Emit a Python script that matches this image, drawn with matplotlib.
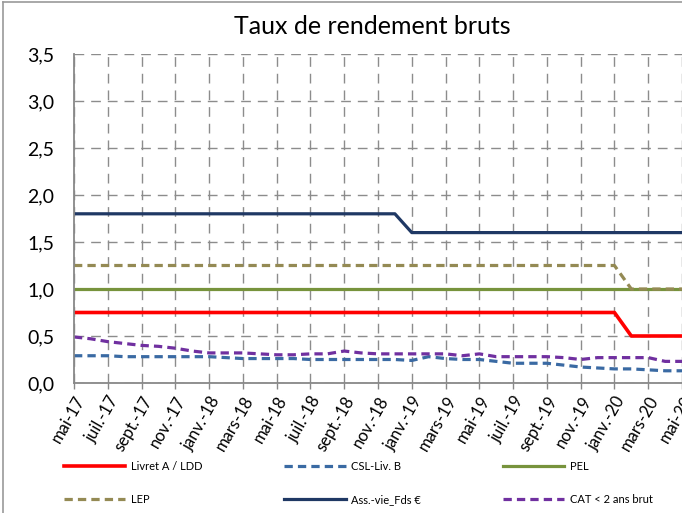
import matplotlib

matplotlib.use("Agg")
import matplotlib.pyplot as plt
import numpy as np
from matplotlib.lines import Line2D

plt.rcParams["font.family"] = ["Lato", "DejaVu Sans"]

# monthly series, mai-17 .. mai-20
tick_labels = [
    "mai-17", "juil.-17", "sept.-17", "nov.-17", "janv.-18", "mars-18", "mai-18",
    "juil.-18", "sept.-18", "nov.-18", "janv.-19", "mars-19", "mai-19", "juil.-19",
    "sept.-19", "nov.-19", "janv.-20", "mars-20", "mai-20",
]
livret_a = [0.75] * 33 + [0.5] * 4
csl = [0.29, 0.29, 0.29, 0.28, 0.28, 0.28, 0.28, 0.28, 0.28, 0.27, 0.26, 0.26, 0.26,
       0.26, 0.25, 0.25, 0.25, 0.25, 0.25, 0.25, 0.24, 0.28, 0.26, 0.25, 0.25, 0.23,
       0.21, 0.21, 0.21, 0.19, 0.17, 0.16, 0.15, 0.15, 0.14, 0.13, 0.13]
pel = [1.0] * 37
lep = [1.25] * 33 + [1.0] * 4
ass_vie = [1.8] * 20 + [1.6] * 17
cat = [0.49, 0.47, 0.44, 0.42, 0.40, 0.39, 0.37, 0.34, 0.32, 0.32, 0.32, 0.31, 0.30,
       0.30, 0.31, 0.31, 0.34, 0.32, 0.31, 0.31, 0.31, 0.31, 0.31, 0.29, 0.31, 0.28,
       0.28, 0.28, 0.28, 0.27, 0.25, 0.27, 0.27, 0.27, 0.27, 0.23, 0.23]

series = [
    ("Livret A / LDD", livret_a, "#ff0000", "-", 2.6),
    ("CSL-Liv. B", csl, "#3a6aa3", (0, (2.6, 1.6)), 2.3),
    ("PEL", pel, "#77933c", "-", 2.3),
    ("LEP", lep, "#948a54", (0, (2.6, 1.6)), 2.3),
    ("Ass.-vie_Fds \u20ac", ass_vie, "#1f3864", "-", 2.3),
    ("CAT < 2 ans brut", cat, "#7030a0", (0, (2.6, 1.6)), 2.3),
]

fig = plt.figure(figsize=(6.82, 5.13), dpi=100)
ax = fig.add_axes([74 / 682, 1 - 383 / 513, 1 - 74 / 682, (383 - 54) / 513])

x = np.arange(len(pel))
handles = []
for name, values, color, ls, lw in series:
    ax.plot(x, values, color=color, linestyle=ls, linewidth=lw, zorder=3)
    handles.append(Line2D([], [], color=color, linestyle=ls, linewidth=lw, label=name))

ax.set_xlim(0, 35.75)
ax.set_ylim(0, 3.5)
ax.set_yticks(np.arange(0, 3.51, 0.5))
ax.set_yticklabels([f"{v:.1f}".replace(".", ",") for v in np.arange(0, 3.51, 0.5)], fontsize=14)
ax.set_xticks(np.arange(0, 37, 2))
ax.set_xticklabels(tick_labels, rotation=60, ha="right", rotation_mode="anchor", fontsize=12)
ax.tick_params(axis="both", colors="#888888", labelcolor="black", length=4, width=1)
ax.tick_params(axis="y", length=0, pad=14)
ax.grid(True, color="#8c8c8c", linestyle=(0, (7, 5)), linewidth=1.0)
ax.set_axisbelow(True)
for side in ("top", "right"):
    ax.spines[side].set_visible(False)
for side in ("left", "bottom"):
    ax.spines[side].set_color("#888888")
    ax.spines[side].set_linewidth(1.3)
    ax.spines[side].set_zorder(4)

fig.text(0.546, 1 - 27 / 513, "Taux de rendement bruts", ha="center", va="center", fontsize=18)

order = [0, 3, 1, 4, 2, 5]
fig.legend(
    [handles[i] for i in order], [handles[i].get_label() for i in order],
    ncol=3, loc="upper left", bbox_to_anchor=(54 / 682, 1 - 451 / 513),
    frameon=False, fontsize=8, handlelength=5.5, handletextpad=0.5,
    columnspacing=7.4, labelspacing=2.0,
)

# chart area border
fig.add_artist(Line2D([3 / 682, 3 / 682], [0, 1 - 2 / 513], color="#999999", linewidth=1.2,
                      transform=fig.transFigure))
fig.add_artist(Line2D([3 / 682, 1], [1 - 2 / 513, 1 - 2 / 513], color="#999999", linewidth=1.2,
                      transform=fig.transFigure))

fig.savefig("out.png", dpi=100)
plt.close(fig)
